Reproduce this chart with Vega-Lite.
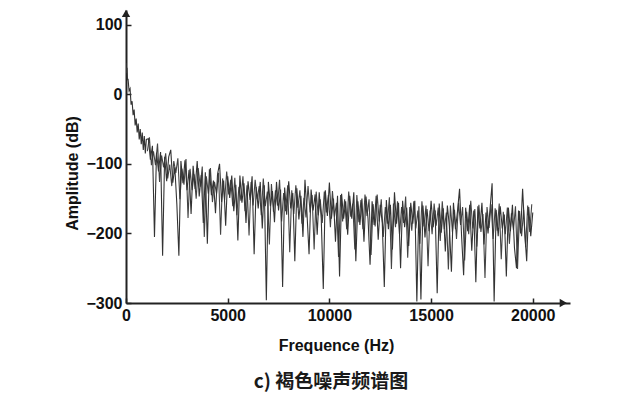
{
  "$schema": "https://vega.github.io/schema/vega-lite/v6.json",
  "autosize": {"type": "none"},
  "padding": {"left": 126, "top": 10, "right": 70, "bottom": 95},
  "width": 444,
  "height": 293,
  "background": "white",
  "config": {"view": {"stroke": null}},
  "title": {"text": "c) 褐色噪声频谱图", "orient": "bottom", "anchor": "middle", "dx": -17, "offset": 20, "font": "Noto Sans CJK SC", "fontSize": 19, "fontWeight": "bold", "color": "#1a1a1a"},
  "datasets": {
    "spec": [
      {"f":0,"a":45},{"f":25,"a":30},{"f":50,"a":38},{"f":75,"a":20},{"f":100,"a":22},{"f":150,"a":5},{"f":200,"a":8},{"f":250,"a":-15},{"f":300,"a":-10},{"f":350,"a":-30},{"f":400,"a":-22},{"f":450,"a":-45},{"f":500,"a":-35},{"f":550,"a":-55},{"f":600,"a":-42},{"f":650,"a":-65},{"f":700,"a":-50},{"f":750,"a":-72},{"f":800,"a":-55},{"f":850,"a":-80},{"f":900,"a":-60},{"f":950,"a":-85},{"f":1000,"a":-65},
      {"f":1100,"a":-64},{"f":1200,"a":-94},{"f":1300,"a":-74},{"f":1400,"a":-205},{"f":1500,"a":-84},{"f":1600,"a":-111},{"f":1700,"a":-83},{"f":1800,"a":-232},{"f":1900,"a":-90},{"f":2000,"a":-125},
      {"f":2100,"a":-90},{"f":2200,"a":-80},{"f":2300,"a":-127},{"f":2400,"a":-105},{"f":2500,"a":-158},{"f":2600,"a":-232},{"f":2700,"a":-96},{"f":2800,"a":-128},{"f":2900,"a":-95},{"f":3000,"a":-138},
      {"f":3100,"a":-109},{"f":3200,"a":-172},{"f":3300,"a":-103},{"f":3400,"a":-136},{"f":3500,"a":-96},{"f":3600,"a":-147},{"f":3700,"a":-116},{"f":3800,"a":-185},{"f":3900,"a":-112},{"f":4000,"a":-215},
      {"f":4100,"a":-108},{"f":4200,"a":-145},{"f":4300,"a":-124},{"f":4400,"a":-171},{"f":4500,"a":-115},{"f":4600,"a":-100},{"f":4700,"a":-155},{"f":4800,"a":-124},{"f":4900,"a":-189},{"f":5000,"a":-118},
      {"f":5100,"a":-149},{"f":5200,"a":-117},{"f":5300,"a":-168},{"f":5400,"a":-130},{"f":5500,"a":-210},{"f":5600,"a":-117},{"f":5700,"a":-156},{"f":5800,"a":-128},{"f":5900,"a":-185},{"f":6000,"a":-125},
      {"f":6100,"a":-152},{"f":6200,"a":-118},{"f":6300,"a":-230},{"f":6400,"a":-133},{"f":6500,"a":-164},{"f":6600,"a":-126},{"f":6700,"a":-193},{"f":6800,"a":-131},{"f":6900,"a":-296},{"f":7000,"a":-126},
      {"f":7100,"a":-161},{"f":7200,"a":-139},{"f":7300,"a":-184},{"f":7400,"a":-126},{"f":7500,"a":-167},{"f":7600,"a":-137},{"f":7700,"a":-277},{"f":7800,"a":-134},{"f":7900,"a":-173},{"f":8000,"a":-125},
      {"f":8100,"a":-164},{"f":8200,"a":-142},{"f":8300,"a":-240},{"f":8400,"a":-135},{"f":8500,"a":-180},{"f":8600,"a":-146},{"f":8700,"a":-205},{"f":8800,"a":-123},{"f":8900,"a":-172},{"f":9000,"a":-230},
      {"f":9100,"a":-137},{"f":9200,"a":-167},{"f":9300,"a":-144},{"f":9400,"a":-202},{"f":9500,"a":-141},{"f":9600,"a":-179},{"f":9700,"a":-280},{"f":9800,"a":-138},{"f":9900,"a":-175},{"f":10000,"a":-127},
      {"f":10100,"a":-179},{"f":10200,"a":-150},{"f":10300,"a":-212},{"f":10400,"a":-146},{"f":10500,"a":-262},{"f":10600,"a":-143},{"f":10700,"a":-179},{"f":10800,"a":-154},{"f":10900,"a":-202},{"f":11000,"a":-146},
      {"f":11100,"a":-179},{"f":11200,"a":-141},{"f":11300,"a":-240},{"f":11400,"a":-154},{"f":11500,"a":-188},{"f":11600,"a":-150},{"f":11700,"a":-212},{"f":11800,"a":-147},{"f":11900,"a":-179},{"f":12000,"a":-245},
      {"f":12100,"a":-154},{"f":12200,"a":-188},{"f":12300,"a":-146},{"f":12400,"a":-209},{"f":12500,"a":-159},{"f":12600,"a":-185},{"f":12700,"a":-277},{"f":12800,"a":-152},{"f":12900,"a":-194},{"f":13000,"a":-159},
      {"f":13100,"a":-223},{"f":13200,"a":-141},{"f":13300,"a":-186},{"f":13400,"a":-156},{"f":13500,"a":-250},{"f":13600,"a":-153},{"f":13700,"a":-191},{"f":13800,"a":-163},{"f":13900,"a":-218},{"f":14000,"a":-156},
      {"f":14100,"a":-186},{"f":14200,"a":-153},{"f":14300,"a":-298},{"f":14400,"a":-161},{"f":14500,"a":-295},{"f":14600,"a":-160},{"f":14700,"a":-206},{"f":14800,"a":-165},{"f":14900,"a":-197},{"f":15000,"a":-153},
      {"f":15100,"a":-191},{"f":15200,"a":-167},{"f":15300,"a":-286},{"f":15400,"a":-157},{"f":15500,"a":-199},{"f":15600,"a":-164},{"f":15700,"a":-226},{"f":15800,"a":-160},{"f":15900,"a":-190},{"f":16000,"a":-255},
      {"f":16100,"a":-156},{"f":16200,"a":-194},{"f":16300,"a":-168},{"f":16400,"a":-136},{"f":16500,"a":-204},{"f":16600,"a":-260},{"f":16700,"a":-163},{"f":16800,"a":-197},{"f":16900,"a":-159},{"f":17000,"a":-225},
      {"f":17100,"a":-167},{"f":17200,"a":-270},{"f":17300,"a":-161},{"f":17400,"a":-193},{"f":17500,"a":-156},{"f":17600,"a":-216},{"f":17700,"a":-170},{"f":17800,"a":-200},{"f":17900,"a":-164},{"f":18000,"a":-128},
      {"f":18100,"a":-298},{"f":18200,"a":-166},{"f":18300,"a":-204},{"f":18400,"a":-161},{"f":18500,"a":-193},{"f":18600,"a":-173},{"f":18700,"a":-262},{"f":18800,"a":-163},{"f":18900,"a":-197},{"f":19000,"a":-159},
      {"f":19100,"a":-221},{"f":19200,"a":-250},{"f":19300,"a":-167},{"f":19400,"a":-200},{"f":19500,"a":-136},{"f":19600,"a":-196},{"f":19700,"a":-240},{"f":19800,"a":-162},{"f":19900,"a":-204},{"f":20000,"a":-170}
    ],
    "spec2": [
      {"f":1050,"a":-82},{"f":1150,"a":-62},{"f":1250,"a":-102},{"f":1350,"a":-82},{"f":1450,"a":-102},{"f":1550,"a":-71},{"f":1650,"a":-126},{"f":1750,"a":-88},{"f":1850,"a":-105},{"f":1950,"a":-85},
      {"f":2050,"a":-121},{"f":2150,"a":-101},{"f":2250,"a":-132},{"f":2350,"a":-96},{"f":2450,"a":-113},{"f":2550,"a":-92},{"f":2650,"a":-151},{"f":2750,"a":-107},{"f":2850,"a":-130},{"f":2950,"a":-93},
      {"f":3050,"a":-178},{"f":3150,"a":-107},{"f":3250,"a":-138},{"f":3350,"a":-115},{"f":3450,"a":-150},{"f":3550,"a":-106},{"f":3650,"a":-133},{"f":3750,"a":-104},{"f":3850,"a":-205},{"f":3950,"a":-118},
      {"f":4050,"a":-143},{"f":4150,"a":-106},{"f":4250,"a":-155},{"f":4350,"a":-126},{"f":4450,"a":-143},{"f":4550,"a":-113},{"f":4650,"a":-202},{"f":4750,"a":-121},{"f":4850,"a":-152},{"f":4950,"a":-111},
      {"f":5050,"a":-144},{"f":5150,"a":-123},{"f":5250,"a":-161},{"f":5350,"a":-120},{"f":5450,"a":-174},{"f":5550,"a":-133},{"f":5650,"a":-153},{"f":5750,"a":-118},{"f":5850,"a":-168},{"f":5950,"a":-131},
      {"f":6050,"a":-203},{"f":6150,"a":-126},{"f":6250,"a":-160},{"f":6350,"a":-123},{"f":6450,"a":-151},{"f":6550,"a":-132},{"f":6650,"a":-174},{"f":6750,"a":-121},{"f":6850,"a":-161},{"f":6950,"a":-140},
      {"f":7050,"a":-216},{"f":7150,"a":-129},{"f":7250,"a":-169},{"f":7350,"a":-138},{"f":7450,"a":-160},{"f":7550,"a":-123},{"f":7650,"a":-183},{"f":7750,"a":-142},{"f":7850,"a":-168},{"f":7950,"a":-131},
      {"f":8050,"a":-227},{"f":8150,"a":-138},{"f":8250,"a":-172},{"f":8350,"a":-131},{"f":8450,"a":-163},{"f":8550,"a":-138},{"f":8650,"a":-186},{"f":8750,"a":-149},{"f":8850,"a":-177},{"f":8950,"a":-132},
      {"f":9050,"a":-170},{"f":9150,"a":-145},{"f":9250,"a":-223},{"f":9350,"a":-140},{"f":9450,"a":-174},{"f":9550,"a":-151},{"f":9650,"a":-185},{"f":9750,"a":-140},{"f":9850,"a":-170},{"f":9950,"a":-145},
      {"f":10050,"a":-191},{"f":10150,"a":-139},{"f":10250,"a":-176},{"f":10350,"a":-156},{"f":10450,"a":-234},{"f":10550,"a":-145},{"f":10650,"a":-183},{"f":10750,"a":-151},{"f":10850,"a":-194},{"f":10950,"a":-140},
      {"f":11050,"a":-176},{"f":11150,"a":-157},{"f":11250,"a":-223},{"f":11350,"a":-145},{"f":11450,"a":-184},{"f":11550,"a":-152},{"f":11650,"a":-194},{"f":11750,"a":-144},{"f":11850,"a":-175},{"f":11950,"a":-151},
      {"f":12050,"a":-231},{"f":12150,"a":-158},{"f":12250,"a":-190},{"f":12350,"a":-144},{"f":12450,"a":-183},{"f":12550,"a":-151},{"f":12650,"a":-205},{"f":12750,"a":-162},{"f":12850,"a":-186},{"f":12950,"a":-148},
      {"f":13050,"a":-251},{"f":13150,"a":-157},{"f":13250,"a":-191},{"f":13350,"a":-154},{"f":13450,"a":-202},{"f":13550,"a":-162},{"f":13650,"a":-185},{"f":13750,"a":-147},{"f":13850,"a":-235},{"f":13950,"a":-162},
      {"f":14050,"a":-196},{"f":14150,"a":-154},{"f":14250,"a":-193},{"f":14350,"a":-167},{"f":14450,"a":-215},{"f":14550,"a":-154},{"f":14650,"a":-190},{"f":14750,"a":-160},{"f":14850,"a":-247},{"f":14950,"a":-167},
      {"f":15050,"a":-201},{"f":15150,"a":-157},{"f":15250,"a":-189},{"f":15350,"a":-163},{"f":15450,"a":-211},{"f":15550,"a":-154},{"f":15650,"a":-194},{"f":15750,"a":-170},{"f":15850,"a":-252},{"f":15950,"a":-160},
      {"f":16050,"a":-198},{"f":16150,"a":-166},{"f":16250,"a":-208},{"f":16350,"a":-156},{"f":16450,"a":-188},{"f":16550,"a":-162},{"f":16650,"a":-239},{"f":16750,"a":-169},{"f":16850,"a":-201},{"f":16950,"a":-153},
      {"f":17050,"a":-193},{"f":17150,"a":-165},{"f":17250,"a":-219},{"f":17350,"a":-159},{"f":17450,"a":-198},{"f":17550,"a":-172},{"f":17650,"a":-264},{"f":17750,"a":-162},{"f":17850,"a":-192},{"f":17950,"a":-158},
      {"f":18050,"a":-208},{"f":18150,"a":-164},{"f":18250,"a":-196},{"f":18350,"a":-157},{"f":18450,"a":-237},{"f":18550,"a":-169},{"f":18650,"a":-201},{"f":18750,"a":-163},{"f":18850,"a":-215},{"f":18950,"a":-171},
      {"f":19050,"a":-195},{"f":19150,"a":-161},{"f":19250,"a":-251},{"f":19350,"a":-168},{"f":19450,"a":-204},{"f":19550,"a":-166},{"f":19650,"a":-220},{"f":19750,"a":-160},{"f":19850,"a":-198},{"f":19950,"a":-158}
    ]
  },
  "layer": [
    {
      "data": {"name": "spec2"},
      "mark": {"type": "line", "color": "#444", "strokeWidth": 1.1, "clip": true},
      "encoding": {
        "x": {"field": "f", "type": "quantitative"},
        "y": {"field": "a", "type": "quantitative"}
      }
    },
    {
      "data": {"name": "spec"},
      "mark": {"type": "line", "color": "#333", "strokeWidth": 1.1, "clip": true},
      "encoding": {
        "x": {
          "field": "f", "type": "quantitative",
          "scale": {"domain": [0, 21830], "nice": false, "zero": false},
          "axis": {
            "values": [0, 5000, 10000, 15000, 20000],
            "format": "d",
            "grid": false,
            "domainColor": "#222", "domainWidth": 2,
            "tickColor": "#222", "tickWidth": 1.5, "tickSize": -5,
            "labelPadding": 9,
            "labelFont": "Liberation Sans", "labelFontSize": 16, "labelFontWeight": "bold", "labelColor": "#111",
            "labelFlush": false, "labelOverlap": false,
            "title": "Frequence (Hz)",
            "titleFont": "Liberation Sans", "titleFontSize": 16, "titleFontWeight": "bold", "titleColor": "#111",
            "titleX": 210, "titleY": 34, "titleBaseline": "top", "titleAnchor": "middle"
          }
        },
        "y": {
          "field": "a", "type": "quantitative",
          "scale": {"domain": [-300, 121], "nice": false, "zero": false},
          "axis": {
            "values": [-300, -200, -100, 0, 100],
            "grid": false,
            "domainColor": "#222", "domainWidth": 2,
            "tickColor": "#222", "tickWidth": 1.5, "tickSize": -5,
            "labelPadding": 9,
            "labelFont": "Liberation Sans", "labelFontSize": 16, "labelFontWeight": "bold", "labelColor": "#111",
            "labelFlush": false, "labelOverlap": false,
            "title": "Amplitude (dB)",
            "titleFont": "Liberation Sans", "titleFontSize": 16, "titleFontWeight": "bold", "titleColor": "#111",
            "titleX": -54, "titleY": 163, "titleBaseline": "middle", "titleAngle": -90, "titleAnchor": "middle"
          }
        }
      }
    },
    {
      "data": {"values": [{"x": 21500, "y": -300}]},
      "mark": {"type": "point", "shape": "triangle-right", "filled": true, "color": "#222", "size": 70, "opacity": 1, "clip": false},
      "encoding": {"x": {"field": "x", "type": "quantitative"}, "y": {"field": "y", "type": "quantitative"}}
    },
    {
      "data": {"values": [{"x": 0, "y": 116}]},
      "mark": {"type": "point", "shape": "triangle-up", "filled": true, "color": "#222", "size": 70, "opacity": 1, "clip": false},
      "encoding": {"x": {"field": "x", "type": "quantitative"}, "y": {"field": "y", "type": "quantitative"}}
    }
  ]
}
